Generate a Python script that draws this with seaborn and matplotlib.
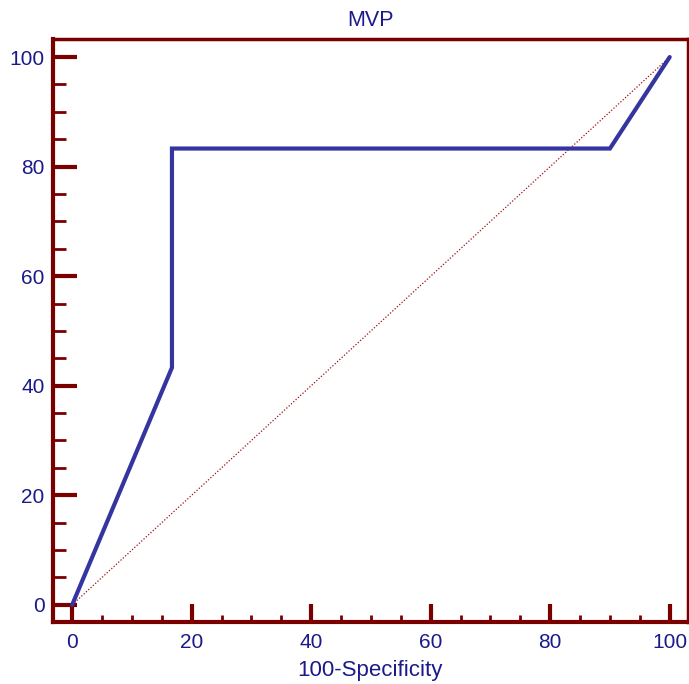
"""ROC curve for MVP, MedCalc style."""

import matplotlib.pyplot as plt
import seaborn as sns
from matplotlib.ticker import MultipleLocator

# Data
fpr = [0, 16.7, 16.7, 90.0, 100]
tpr = [0, 43.3, 83.3, 83.3, 100]
diag = [0, 100]
x_ticks = [0, 20, 40, 60, 80, 100]
y_ticks = [0, 20, 40, 60, 80, 100]

maroon = "#7a0000"
navy = "#1a1a8a"
line_blue = "#3535a0"

sns.set_style("white")
plt.rcParams["font.family"] = ["Liberation Sans", "DejaVu Sans"]

fig = plt.figure(figsize=(6.89, 6.84), dpi=100)
ax = fig.add_axes([0.077, 0.091, 0.921, 0.852])

# Diagonal reference line
sns.lineplot(x=diag, y=diag, ax=ax, color="#a01010", linestyle=(0, (1, 1.5)),
             linewidth=0.9, estimator=None)

# ROC curve
sns.lineplot(x=fpr, y=tpr, ax=ax, color=line_blue, linewidth=3, sort=False,
             estimator=None, solid_joinstyle="miter")

ax.set_xlim(-3.2, 103)
ax.set_ylim(-3.1, 103.3)
ax.set_xticks(x_ticks)
ax.set_yticks(y_ticks)
ax.xaxis.set_minor_locator(MultipleLocator(5))
ax.yaxis.set_minor_locator(MultipleLocator(5))

for side in ["left", "bottom"]:
    ax.spines[side].set_linewidth(3)
    ax.spines[side].set_color(maroon)
for side in ["top", "right"]:
    ax.spines[side].set_linewidth(2.5)
    ax.spines[side].set_color(maroon)

ax.tick_params(axis="y", which="major", direction="in", length=17, width=3,
               color=maroon, labelcolor=navy, labelsize=15, pad=6)
ax.tick_params(axis="y", which="minor", direction="in", length=9, width=2, color=maroon)
ax.tick_params(axis="x", which="major", direction="in", length=13, width=3,
               color=maroon, labelcolor=navy, labelsize=15, pad=8)
ax.tick_params(axis="x", which="minor", direction="in", length=5, width=2, color=maroon)
ax.tick_params(left=True, bottom=True, which="both")

ax.set_title("MVP", color=navy, fontsize=15.5, pad=9)
ax.set_xlabel("100-Specificity", color=navy, fontsize=16, labelpad=6)
ax.set_ylabel("")

plt.savefig("out.png", dpi=100)
plt.close()
